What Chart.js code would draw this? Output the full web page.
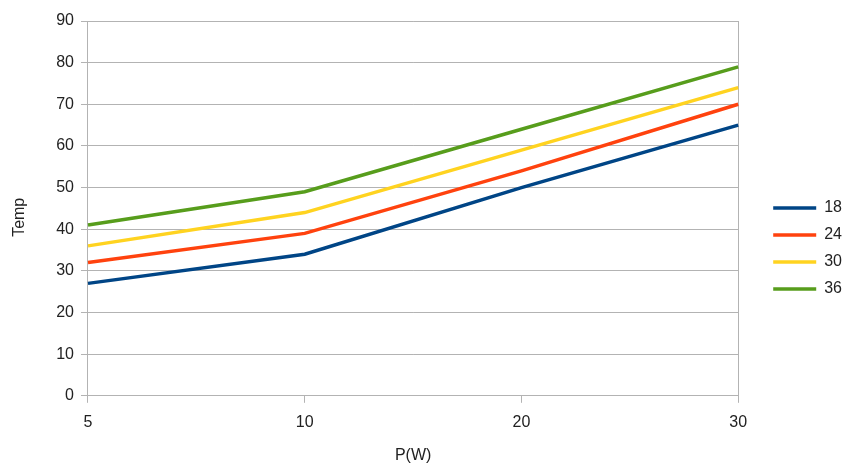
<!DOCTYPE html>
<html>
<head>
<meta charset="utf-8">
<script src="https://cdn.jsdelivr.net/npm/chart.js@4"></script>
<style>
  body { margin: 0; background: #fff; }
  #wrap { width: 845px; height: 464px; }
</style>
</head>
<body>
<div id="wrap"><canvas id="myChart" width="845" height="464"></canvas></div>
<script>
// x categories (P in W) and temperatures per series
const powerLabels = ['5', '10', '20', '30'];
const seriesNames = ['18', '24', '30', '36'];
const temp18 = [27, 34, 50, 65];
const temp24 = [32, 39, 54, 70];
const temp30 = [36, 44, 59, 74];
const temp36 = [41, 49, 64, 79];
const lineColors = ['#004586', '#ff420e', '#ffd320', '#579d1c'];

const gridColor = '#b3b3b3';
const textColor = '#222';

const datasets = [temp18, temp24, temp30, temp36].map((values, i) => {
    return {
        label: seriesNames[i],
        data: values,
        borderColor: lineColors[i],
        backgroundColor: lineColors[i],
        borderWidth: 3.5,
        pointRadius: 0,
        tension: 0,
        pointStyle: 'line'
    };
});

// nudge the legend so it sits where the original one does
const legendNudge = {
    id: 'legendNudge',
    afterLayout(chart) {
        const lg = chart.legend;
        lg.top += 6;
        lg.bottom += 6;
        lg.left += 24;
        lg.right += 24;
    }
};

const config = {
    type: 'line',
    data: {
        labels: powerLabels,
        datasets: datasets
    },
    options: {
        responsive: false,
        animation: false,
        layout: {
            padding: { top: 21, right: 17, left: 10, bottom: 0 }
        },
        plugins: {
            legend: {
                position: 'right',
                labels: {
                    usePointStyle: true,
                    pointStyleWidth: 43,
                    boxHeight: 10,
                    padding: 11,
                    color: textColor,
                    font: { family: 'Liberation Sans', size: 16 }
                }
            },
            tooltip: { enabled: false }
        },
        scales: {
            x: {
                offset: false,
                grid: {
                    color: ctx => (ctx.index === 0 || ctx.index === powerLabels.length - 1) ? gridColor : 'rgba(0,0,0,0)',
                    tickColor: gridColor,
                    tickLength: 7
                },
                border: { color: gridColor },
                ticks: {
                    color: textColor,
                    padding: 10,
                    maxRotation: 0,
                    font: { family: 'Liberation Sans', size: 16 }
                },
                title: {
                    display: true,
                    text: 'P(W)',
                    color: textColor,
                    padding: { top: 6, bottom: 0 },
                    font: { family: 'Liberation Sans', size: 16, lineHeight: 1 }
                }
            },
            y: {
                min: 0,
                max: 90,
                grid: {
                    color: gridColor,
                    tickColor: gridColor,
                    tickLength: 7
                },
                border: { color: gridColor },
                ticks: {
                    stepSize: 10,
                    color: textColor,
                    padding: 7,
                    font: { family: 'Liberation Sans', size: 16 }
                },
                title: {
                    display: true,
                    // trailing spaces push the rotated word a bit lower, like the original
                    text: 'Temp    ',
                    color: textColor,
                    padding: { top: 0, bottom: 20 },
                    font: { family: 'Liberation Sans', size: 16 }
                }
            }
        }
    },
    plugins: [legendNudge]
};

const ctx = document.getElementById('myChart').getContext('2d');
const myChart = new Chart(ctx, config);
</script>
</body>
</html>
